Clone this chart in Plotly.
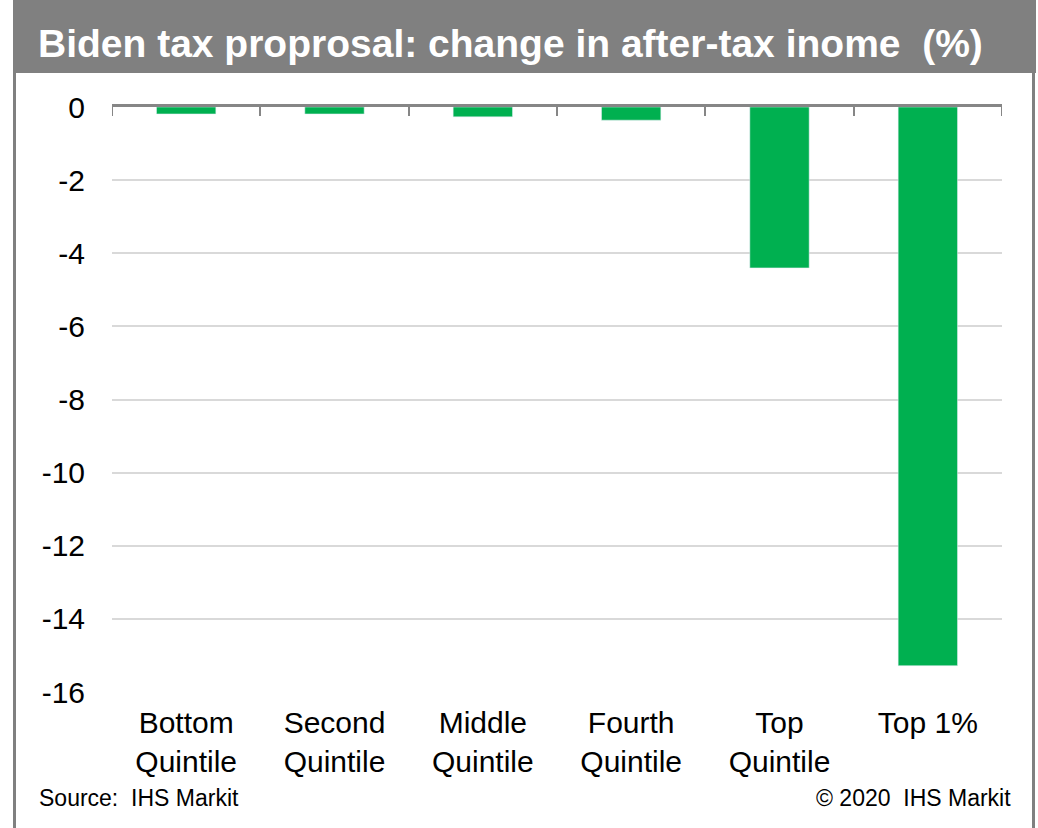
import plotly.graph_objects as go

# Income groups and the change in their after-tax income (%)
groups = ["Bottom Quintile", "Second Quintile", "Middle Quintile",
          "Fourth Quintile", "Top Quintile", "Top 1%"]
group_labels = ["Bottom<br>Quintile", "Second<br>Quintile", "Middle<br>Quintile",
                "Fourth<br>Quintile", "Top<br>Quintile", "Top 1%"]
change_pct = [-0.19, -0.19, -0.27, -0.36, -4.4, -15.28]

y_ticks = [0, -2, -4, -6, -8, -10, -12, -14, -16]
y_tick_text = ["0", "-2", "-4", "-6", "-8", "-10", "-12", "-14", "-16"]

title_text = "Biden tax proprosal: change in after-tax inome  (%)"
source_text = "Source:  IHS Markit"
copyright_text = "© 2020  IHS Markit"

W, H = 1038, 828
L, R, T, B = 112, 36, 107, 136
PW, PH = W - L - R, H - T - B


def px(x):
    return (x - L) / PW


def py(y):
    return 1 - (y - T) / PH


GREEN = "#00B050"
FRAME = "#808080"
AXIS = "#868686"
FONT = "Liberation Sans, Arial, sans-serif"

fig = go.Figure()
fig.add_trace(go.Bar(
    x=groups, y=change_pct, width=0.4,
    marker=dict(color=GREEN, line=dict(width=0)),
    hoverinfo="x+y",
))
# carrier trace for the zero-line axis drawn along the top of the plot
fig.add_trace(go.Bar(
    x=groups, y=change_pct, xaxis="x2", width=0.4,
    marker=dict(color="rgba(0,0,0,0)"), hoverinfo="skip", showlegend=False,
))

# tick marks at the two outer category boundaries
edge_ticks = [
    dict(type="line", xref="x", yref="paper", x0=edge, x1=edge,
         y0=1, y1=py(T + 9), line=dict(color=AXIS, width=2))
    for edge in (-0.5, len(groups) - 0.5)
]

fig.update_layout(
    width=W, height=H,
    margin=dict(l=L, r=R, t=T, b=B),
    paper_bgcolor="white", plot_bgcolor="white",
    showlegend=False, bargap=0.6,
    font=dict(family=FONT, color="black"),
    xaxis=dict(
        type="category", categoryarray=groups, range=[-0.5, 5.5],
        tickvals=groups, ticktext=group_labels,
        tickfont=dict(size=30, family=FONT, color="black"),
        showline=False, showgrid=False, zeroline=False, ticks="",
        ticklabelstandoff=10,
    ),
    xaxis2=dict(
        type="category", categoryarray=groups, range=[-0.5, 5.5],
        overlaying="x", side="top", anchor="y",
        showticklabels=False, showgrid=False, zeroline=False,
        showline=True, linecolor=AXIS, linewidth=3,
        ticks="inside", tickson="boundaries", ticklen=9, tickwidth=2,
        tickcolor=AXIS,
    ),
    yaxis=dict(
        range=[-16, 0], tickvals=y_ticks, ticktext=y_tick_text,
        tickfont=dict(size=30, family=FONT, color="black"),
        showgrid=True, gridcolor="#d9d9d9", gridwidth=2,
        zeroline=False, showline=False, ticks="",
        ticklabelstandoff=26,
    ),
    shapes=[
        dict(type="rect", xref="paper", yref="paper",
             x0=px(13), x1=px(1036), y0=py(0), y1=py(73),
             fillcolor=FRAME, line=dict(width=0), layer="below"),
        dict(type="line", xref="paper", yref="paper",
             x0=px(14.5), x1=px(14.5), y0=py(73), y1=py(830),
             line=dict(color=FRAME, width=3)),
        dict(type="line", xref="paper", yref="paper",
             x0=px(1033.5), x1=px(1033.5), y0=py(73), y1=py(830),
             line=dict(color=FRAME, width=3)),
    ] + edge_ticks,
    annotations=[
        dict(text="<b>" + title_text + "</b>", xref="paper", yref="paper",
             x=px(36), y=py(44), xanchor="left", yanchor="middle",
             showarrow=False, font=dict(size=39, color="white", family=FONT)),
        dict(text=source_text, xref="paper", yref="paper",
             x=px(37), y=py(798), xanchor="left", yanchor="middle",
             showarrow=False, font=dict(size=23, color="black", family=FONT)),
        dict(text=copyright_text, xref="paper", yref="paper",
             x=px(1013), y=py(798), xanchor="right", yanchor="middle",
             showarrow=False, font=dict(size=23, color="black", family=FONT)),
    ],
)

fig.write_html("out.html")
